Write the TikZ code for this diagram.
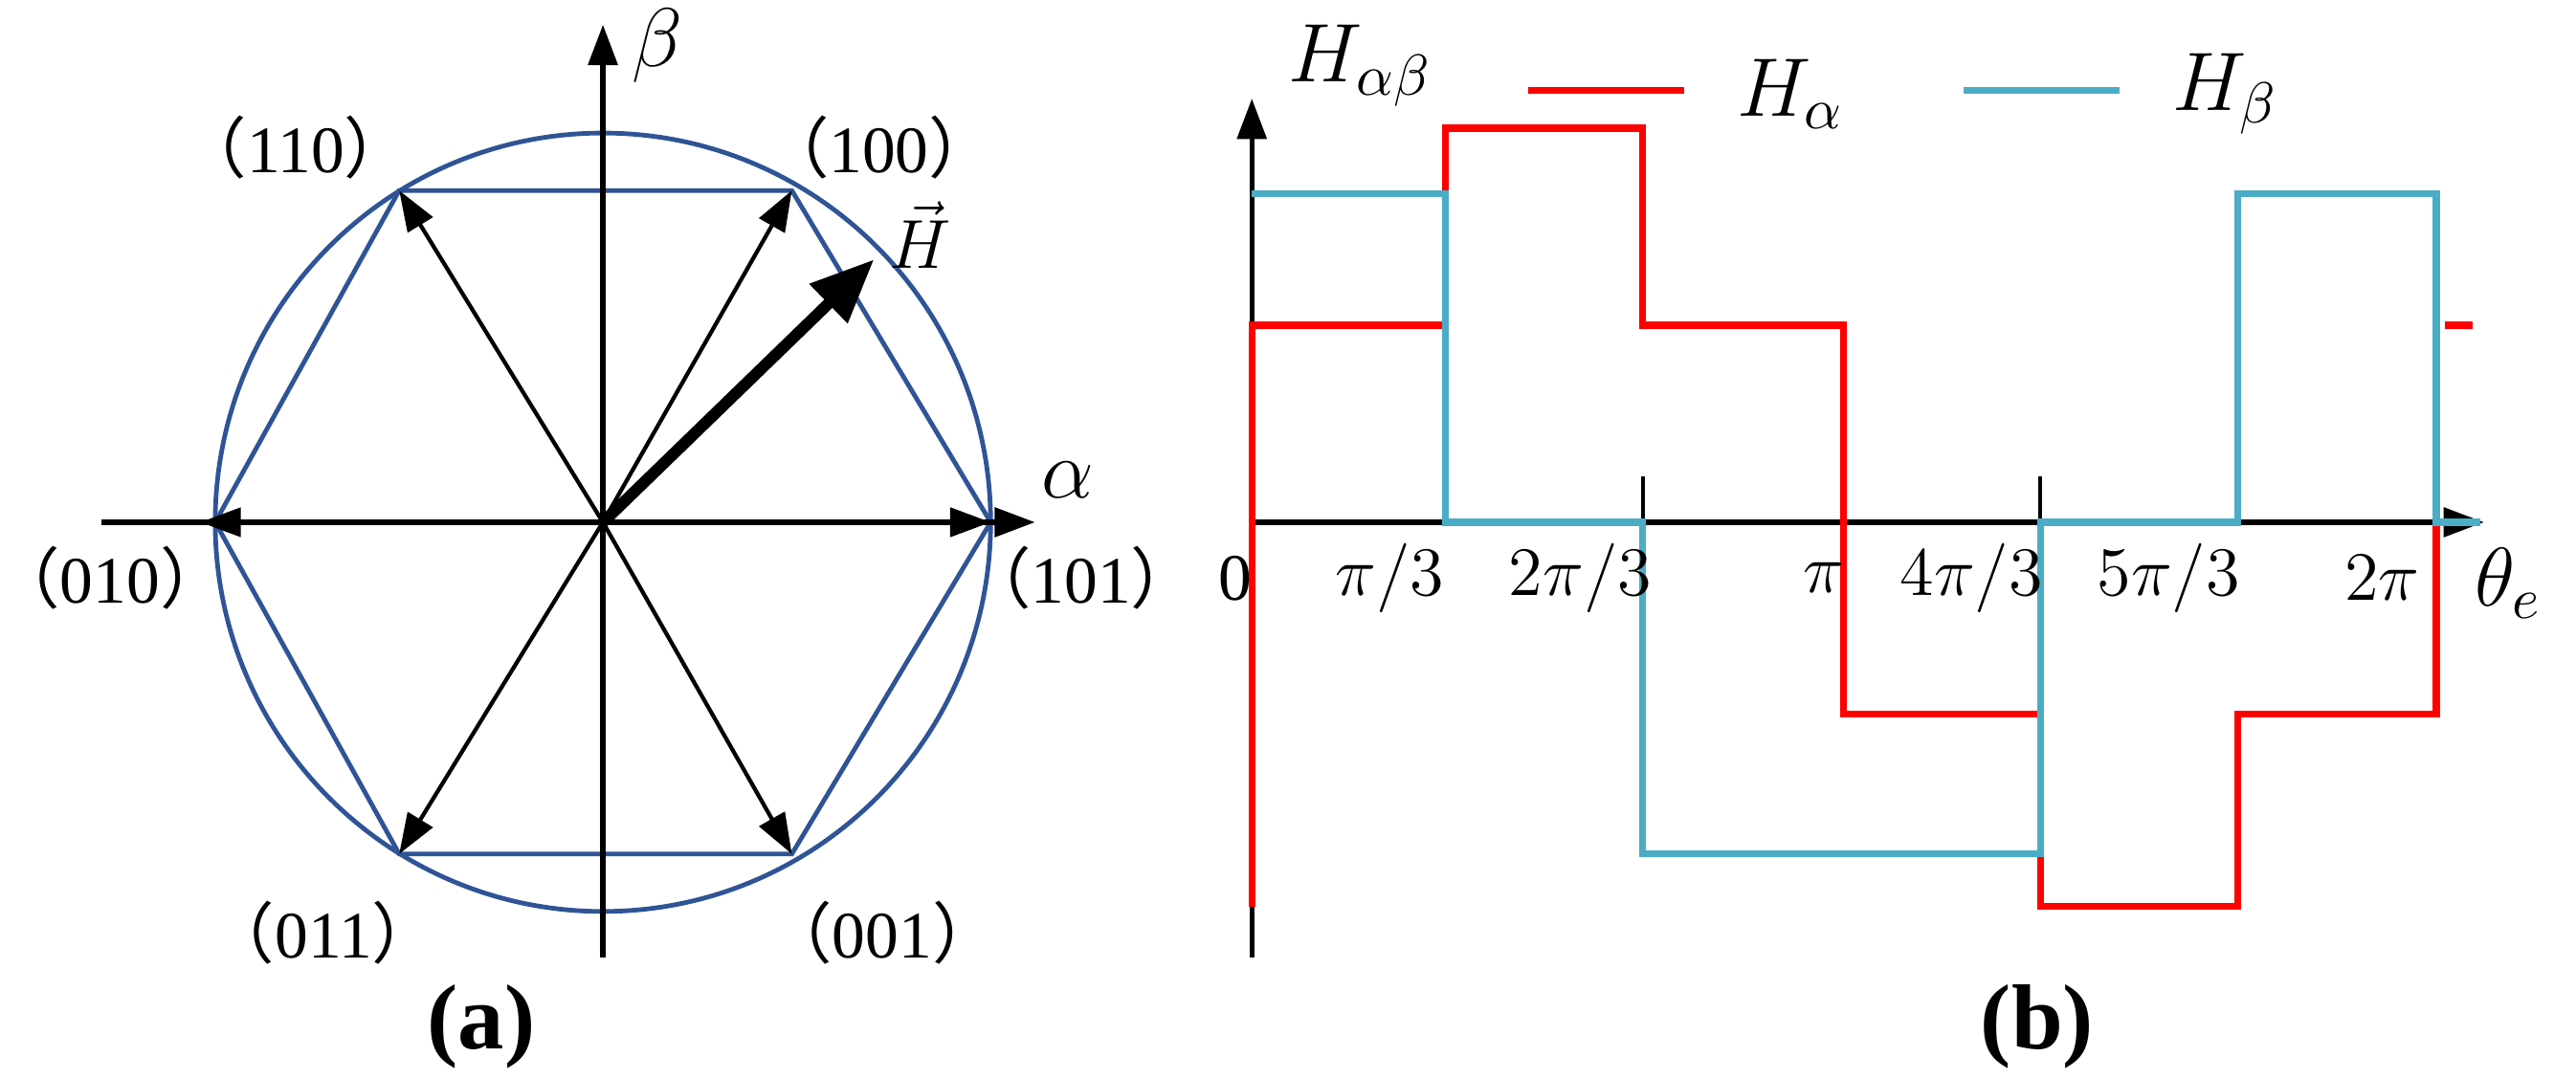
\documentclass[tikz,border=0pt]{standalone}
\usepackage{fontspec}
\setmainfont{Liberation Serif}
\newfontfamily\cjk{Noto Sans CJK SC}
\usetikzlibrary{arrows.meta}
\definecolor{hexblue}{RGB}{47,84,150}
\definecolor{lblue}{RGB}{75,172,198}
\tikzset{
 axis/.style={line width=0.9pt,-{Triangle[length=7pt,width=5pt]}},
 vec/.style={line width=0.7pt,-{Triangle[length=7pt,width=5pt]}},
 lbl/.style={font=\fontsize{11.5}{13}\selectfont},
 gl/.style={font=\fontsize{14}{16}\selectfont},
 hx/.style={hexblue,line width=0.8pt},
 redl/.style={red,line width=1.2pt},
 bluel/.style={lblue,line width=1.2pt},
}
\newcommand{\cp}[1]{{\cjk （}#1{\cjk ）}}
\begin{document}
\begin{tikzpicture}[x=0.01cm,y=-0.01cm]
\useasboundingbox (0,0) rectangle (1568,657);
% ---- (a)
\coordinate (o) at (367,318);
\coordinate (v1) at (603,318);
\coordinate (v2) at (482,116);
\coordinate (v3) at (243,116);
\coordinate (v4) at (131,318);
\coordinate (v5) at (243,520);
\coordinate (v6) at (482,520);
\draw[hx] (o) circle [x radius=236, y radius=237];
\draw[hx] (v1)--(v2)--(v3)--(v4)--(v5)--(v6)--cycle;
\coordinate (xl) at (62,318); \coordinate (xr) at (630,318);
\coordinate (yb) at (367,583); \coordinate (yt) at (367,15);
\draw[axis] (xl)--(xr);
\draw[axis] (yb)--(yt);
\coordinate (v4b) at (122,318);
\foreach \v in {v1,v2,v3,v4b,v5,v6} \draw[vec] (o)--(\v);
\coordinate (h) at (532,158);
\draw[line width=2pt,-{Triangle[length=11pt,width=9pt]}] (o)--(h);
\node[gl] (beta) at (400,28) {$\beta$};
\node[gl] (alpha) at (650,292) {$\alpha$};
\node[lbl] (hl) at (560,143) {$\vec{H}$};
\node[lbl] (l110) at (180,90) {\cp{110}};
\node[lbl] (l100) at (535,90) {\cp{100}};
\node[lbl] (l010) at (67,352) {\cp{010}};
\node[lbl] (l101) at (658,352) {\cp{101}};
\node[lbl] (l011) at (197,568) {\cp{011}};
\node[lbl] (l001) at (537,568) {\cp{001}};
\node[font=\fontsize{16}{18}\selectfont\bfseries] (ca) at (293,625) {(a)};
% ---- (b)
\coordinate (O) at (762,318);
\coordinate (yb2) at (762,583); \coordinate (yt2) at (762,60);
\coordinate (xe) at (1512,318);
\draw[axis] (yb2)--(yt2);
\draw[axis] (O)--(xe);
\foreach \x in {880,1000,1122,1242} \draw[line width=0.7pt] (\x,290)--(\x,318);
\draw[redl] (762,552)--(762,198)--(880,198)--(880,78)--(1000,78)--(1000,198)--(1122,198)--(1122,435)--(1242,435)--(1242,552)--(1362,552)--(1362,435)--(1483,435)--(1483,318);
\draw[redl] (1488,198)--(1505,198);
\draw[bluel] (762,118)--(880,118)--(880,318)--(1000,318)--(1000,520)--(1242,520)--(1242,318)--(1362,318)--(1362,118)--(1483,118)--(1483,318)--(1510,318);
\draw[redl] (930,55)--(1025,55);
\draw[bluel] (1195,55)--(1290,55);
\node[gl,anchor=west] (hr) at (1045,57) {$H_\alpha$};
\node[gl,anchor=west] (hb) at (1310,57) {$H_\beta$};
\node[gl,anchor=west] (hab) at (772,40) {$H_{\alpha\beta}$};
\node[gl] (te) at (1527,355) {$\theta_e$};
\node[lbl] (t0) at (752,352) {0};
\node[lbl] (t1) at (846,352) {$\pi/3$};
\node[lbl] (t2) at (962,352) {$2\pi/3$};
\node[lbl] (t3) at (1110,352) {$\pi$};
\node[lbl] (t4) at (1200,352) {$4\pi/3$};
\node[lbl] (t5) at (1320,352) {$5\pi/3$};
\node[lbl] (t6) at (1450,352) {$2\pi$};
\node[font=\fontsize{16}{18}\selectfont\bfseries] (cb) at (1240,625) {(b)};
\end{tikzpicture}
\end{document}
